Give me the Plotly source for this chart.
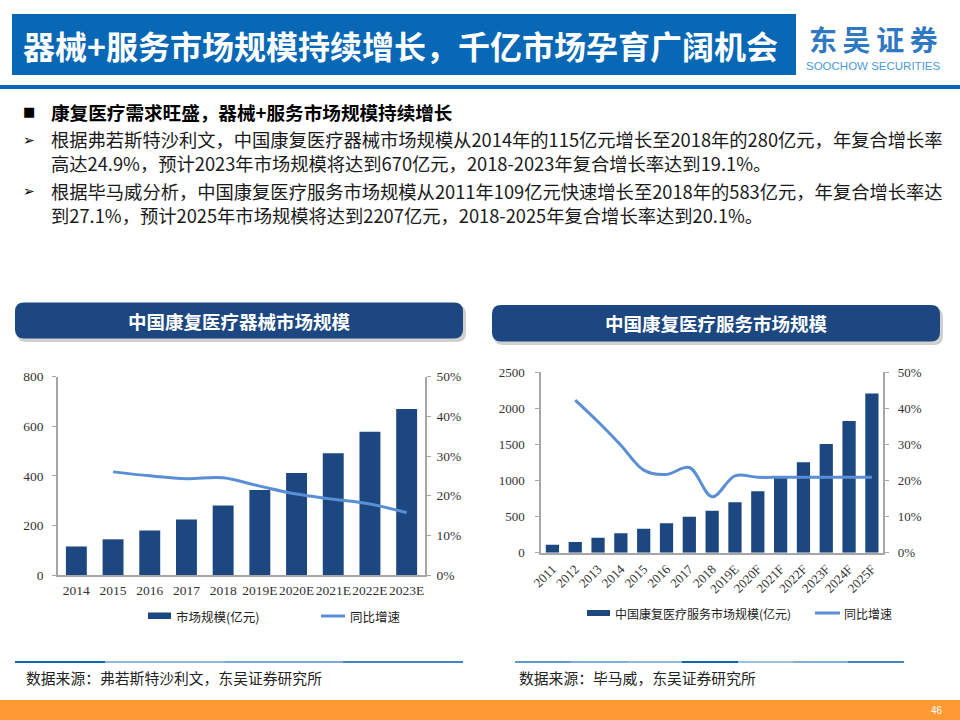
import plotly.graph_objects as go

# ---------------- data ----------------
device_years = ['2014', '2015', '2016', '2017', '2018', '2019E', '2020E', '2021E', '2022E', '2023E']
device_size = [115, 144, 180, 224, 280, 343, 411, 491, 578, 670]
device_growth = [None, 0.260, 0.250, 0.243, 0.245, 0.224, 0.204, 0.191, 0.179, 0.157]

service_years = ['2011', '2012', '2013', '2014', '2015', '2016', '2017', '2018', '2019E',
                 '2020F', '2021F', '2022F', '2023F', '2024F', '2025F']
service_size = [109, 148, 208, 269, 333, 407, 499, 583, 698, 851, 1039, 1253, 1506, 1825, 2207]
service_growth = [None, 0.423, 0.363, 0.298, 0.229, 0.217, 0.236, 0.155, 0.213,
                  0.209, 0.209, 0.209, 0.209, 0.209, 0.209]

device_ticks_left = [0, 200, 400, 600, 800]
service_ticks_left = [0, 500, 1000, 1500, 2000, 2500]
pct_ticks = [0, 0.1, 0.2, 0.3, 0.4, 0.5]

# ---------------- style ----------------
W, H = 960, 720
BAR = '#1C4780'
LINE = '#5A8FD5'
AXIS = '#A6A6A6'
HEADER = '#0868B6'
CJK = 'Noto Sans CJK SC'
SERIF = 'Liberation Serif'


def px(x):
    return x / W


def py(y):
    return 1 - y / H


fig = go.Figure()

# left chart
fig.add_trace(go.Bar(x=device_years, y=device_size, marker=dict(color=BAR, line=dict(width=0)),
                     width=0.57, xaxis='x', yaxis='y', name='市场规模(亿元)'))
fig.add_trace(go.Scatter(x=device_years, y=device_growth, mode='lines',
                         line=dict(color=LINE, width=3, shape='spline', smoothing=1),
                         xaxis='x', yaxis='y2', name='同比增速'))
# right chart
fig.add_trace(go.Bar(x=service_years, y=service_size, marker=dict(color=BAR, line=dict(width=0)),
                     width=0.58, xaxis='x2', yaxis='y3', name='中国康复医疗服务市场规模(亿元)'))
fig.add_trace(go.Scatter(x=service_years, y=service_growth, mode='lines',
                         line=dict(color=LINE, width=3, shape='spline', smoothing=1),
                         xaxis='x2', yaxis='y4', name='同比增速'))

tickfont = dict(family=SERIF, size=13.5, color='#333333')
tickfont_r = dict(family=SERIF, size=13, color='#333333')

common_x = dict(type='category', showline=True, linecolor=AXIS, linewidth=1.5, automargin=False,
                ticks='', showgrid=False, zeroline=False, fixedrange=True)
common_y = dict(showline=True, linecolor=AXIS, linewidth=1.5, ticks='outside', automargin=False,
                ticklen=4, tickcolor=AXIS, tickwidth=1.2, showgrid=False, zeroline=False)

fig.update_layout(
    width=W, height=H,
    margin=dict(l=0, r=0, t=0, b=0, pad=0, autoexpand=False),
    paper_bgcolor='white', plot_bgcolor='rgba(0,0,0,0)',
    showlegend=False,
    xaxis=dict(**common_x, domain=[px(58), px(425)], anchor='y', tickfont=tickfont,
               tickangle=0, ticklabelstandoff=2),
    yaxis=dict(**common_y, domain=[py(575), py(376.7)], range=[0, 800], tickvals=device_ticks_left,
               anchor='x', tickfont=tickfont, ticklabelstandoff=6),
    yaxis2=dict(**common_y, range=[0, 0.5], tickvals=pct_ticks, tickformat='.0%',
                overlaying='y', side='right', anchor='x', tickfont=tickfont, ticklabelstandoff=3),
    xaxis2=dict(**common_x, domain=[px(541), px(883.3)], anchor='y3', tickfont=tickfont_r,
                tickangle=-45, ticklabelstandoff=2),
    yaxis3=dict(**common_y, domain=[py(552.7), py(372.3)], range=[0, 2500], tickvals=service_ticks_left,
                anchor='x2', tickfont=tickfont_r, ticklabelstandoff=8),
    yaxis4=dict(**common_y, range=[0, 0.5], tickvals=pct_ticks, tickformat='.0%',
                overlaying='y3', side='right', anchor='x2', tickfont=tickfont_r, ticklabelstandoff=6),
)

shapes = []
annotations = []


def rect(x0, y0, x1, y1, color, layer='below'):
    shapes.append(dict(type='rect', xref='paper', yref='paper', x0=px(x0), x1=px(x1),
                       y0=py(y1), y1=py(y0), fillcolor=color, line=dict(width=0), layer=layer))


def rrect(x0, y0, x1, y1, r, color):
    rx, ry = r / W, r / H
    X0, X1, Y0, Y1 = px(x0), px(x1), py(y1), py(y0)
    path = (f'M{X0 + rx},{Y1} L{X1 - rx},{Y1} Q{X1},{Y1} {X1},{Y1 - ry} '
            f'L{X1},{Y0 + ry} Q{X1},{Y0} {X1 - rx},{Y0} L{X0 + rx},{Y0} '
            f'Q{X0},{Y0} {X0},{Y0 + ry} L{X0},{Y1 - ry} Q{X0},{Y1} {X0 + rx},{Y1} Z')
    shapes.append(dict(type='path', xref='paper', yref='paper', path=path,
                       fillcolor=color, line=dict(width=0), layer='below'))


def text(x, y, s, size, color='#000000', family=CJK, xanchor='left', bold=False, yanchor='middle'):
    if bold:
        s = f'<b>{s}</b>'
    annotations.append(dict(x=px(x), y=py(y), xref='paper', yref='paper', text=s, showarrow=False,
                            xanchor=xanchor, yanchor=yanchor, align='left',
                            font=dict(family=family, size=size, color=color)))


def hline(x0, x1, y, color, width):
    shapes.append(dict(type='line', xref='paper', yref='paper', x0=px(x0), x1=px(x1),
                       y0=py(y), y1=py(y), line=dict(color=color, width=width)))


# header
rect(12, 14, 796, 75, HEADER)
text(21, 45, '器械+服务市场规模持续增长，千亿市场孕育广阔机会', 32, 'white', bold=True)
text(873, 39, '东\u2009吴\u2009证\u2009券', 28, '#2F78C2', xanchor='center', bold=True)
text(873, 66, 'SOOCHOW SECURITIES', 11.5, '#4A9AD8', family='Liberation Sans', xanchor='center')
rect(0, 85, 960, 89, HEADER)

# bullets
text(21, 111, '■', 13, '#000000', family='DejaVu Sans')
text(49, 111, '康复医疗需求旺盛，器械+服务市场规模持续增长', 18.6, '#000000', bold=True)
text(21, 140, '➢', 14, '#000000', family='DejaVu Sans')
text(49, 151, '根据弗若斯特沙利文，中国康复医疗器械市场规模从2014年的115亿元增长至2018年的280亿元，年复合增长率'
     '<br>高达24.9%，预计2023年市场规模将达到670亿元，2018-2023年复合增长率达到19.1%。', 18.3, '#1A1A1A')
text(21, 191, '➢', 14, '#000000', family='DejaVu Sans')
text(49, 202.5, '根据毕马威分析，中国康复医疗服务市场规模从2011年109亿元快速增长至2018年的583亿元，年复合增长率达'
     '<br>到27.1%，预计2025年市场规模将达到2207亿元，2018-2025年复合增长率达到20.1%。', 18.3, '#1A1A1A')

# panel title boxes (shadow + box)
rrect(17, 305, 466, 342, 9, 'rgba(120,120,120,0.35)')
rrect(15, 302.5, 463, 338.5, 9, BAR)
text(239, 321, '中国康复医疗器械市场规模', 18.5, 'white', xanchor='center', bold=True)
rrect(494, 308, 943, 345, 9, 'rgba(120,120,120,0.35)')
rrect(492, 305, 940, 341.5, 9, BAR)
text(716, 323, '中国康复医疗服务市场规模', 18.5, 'white', xanchor='center', bold=True)

# legends
rect(148, 612.5, 171, 619, BAR, layer='above')
text(174, 616, '市场规模(亿元)', 12.5, '#222222')
hline(321, 345, 616, LINE, 3)
text(348, 616, '同比增速', 12.5, '#222222')

rect(587, 610, 610, 616, BAR, layer='above')
text(613, 613, '中国康复医疗服务市场规模(亿元)', 12, '#222222')
hline(815, 840, 613, LINE, 3)
text(842, 613, '同比增速', 12, '#222222')

# footer lines
for x0, x1, c in [(15, 105, '#0868B6'), (105, 225, '#8DB7DD'), (225, 343, '#79A9D6'), (343, 463, '#3F87C9')]:
    hline(x0, x1, 662, c, 2)
for x0, x1, c in [(515, 571, '#5E98CF'), (571, 627, '#7EAED9'), (627, 682, '#8DB7DD'), (682, 738, '#0868B6'),
                  (738, 793, '#9CC2E3'), (793, 848, '#7EAED9'), (848, 904, '#3F87C9')]:
    hline(x0, x1, 662, c, 2)
text(24, 677, '数据来源：弗若斯特沙利文，东吴证券研究所', 14.8, '#222222')
text(517, 677, '数据来源：毕马威，东吴证券研究所', 14.8, '#222222')

# bottom orange bar
rect(0, 700, 960, 720, '#FD9A33')
text(937, 710, '46', 10, 'white', family='Liberation Sans', xanchor='center')

fig.update_layout(shapes=shapes, annotations=annotations)
fig.write_html('out.html', config={'displayModeBar': False},
               post_script="document.body.style.margin='0';document.body.style.overflow='hidden';")
